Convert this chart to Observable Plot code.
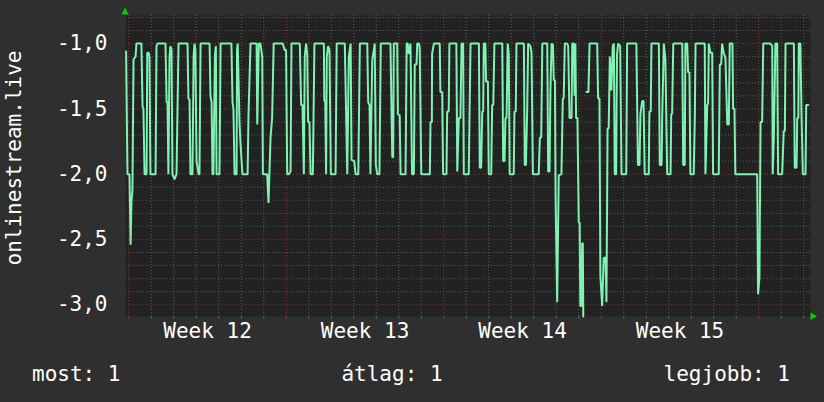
<!DOCTYPE html>
<html>
<head>
<meta charset="utf-8">
<script src="https://cdn.jsdelivr.net/npm/d3@7"></script>
<script src="https://cdn.jsdelivr.net/npm/@observablehq/plot@0.6"></script>
<style>
  html, body { margin: 0; padding: 0; background: #2f2f2f; }
  svg { display: block; }
</style>
</head>
<body>
<div id="chart"></div>
<script>
// time in days since the start of Week 12
const t = [
  -0.12,-0.06,0.03,0.08,0.12,0.16,0.21,0.30,0.34,0.56,0.61,0.65,0.70,0.79,0.82,0.88,0.92,0.96,1.19,1.23,
  1.28,1.63,1.68,1.72,1.76,1.81,1.85,1.90,1.94,2.03,2.12,2.21,2.61,2.65,2.70,2.74,2.83,2.88,2.92,2.96,
  3.01,3.10,3.14,3.19,3.59,3.63,3.68,3.72,3.76,3.83,3.87,3.90,4.03,4.08,4.56,4.61,4.65,4.70,4.79,4.81,
  4.84,4.92,4.96,5.05,5.28,5.32,5.41,5.68,5.71,5.78,5.85,5.93,5.96,6.15,6.21,6.30,6.37,6.44,6.84,6.93,
  6.99,7.04,7.11,7.19,7.23,7.60,7.66,7.72,7.78,7.82,7.88,7.93,7.97,8.03,8.08,8.18,8.25,8.67,8.69,8.73,
  8.77,8.80,8.86,8.92,8.98,9.19,9.24,9.60,9.71,9.78,9.86,9.90,10.02,10.08,10.20,10.27,10.60,10.64,10.70,10.74,
  10.82,10.89,10.93,10.98,11.04,11.14,11.20,11.63,11.71,11.75,11.78,11.93,11.96,12.04,12.08,12.30,12.35,12.40,12.44,12.52,
  12.59,12.67,12.71,12.79,12.82,12.89,12.93,13.00,13.38,13.41,13.47,13.48,13.56,13.82,13.85,13.93,13.97,14.12,14.15,14.22,
  14.25,14.56,14.60,14.67,14.74,14.79,14.86,14.89,15.11,15.14,15.19,15.56,15.60,15.66,15.71,15.75,15.78,15.85,15.88,15.96,
  16.00,16.11,16.15,16.20,16.25,16.60,16.64,16.70,16.74,16.79,16.84,16.89,16.93,17.11,17.14,17.20,17.23,17.56,17.60,17.65,
  17.71,17.75,17.85,17.90,17.96,18.22,18.27,18.33,18.38,18.60,18.64,18.70,18.74,18.79,18.85,18.89,18.94,18.97,19.04,19.11,
  19.23,19.29,19.33,19.38,19.48,19.53,19.59,19.68,19.71,19.78,19.81,19.85,19.88,19.94,20.00,20.04,20.07,20.12,20.15,20.18,
  20.20,20.27,20.34,20.43,20.48,20.82,20.86,20.92,20.96,21.04,21.11,21.19,21.23,21.28,21.33,21.38,21.45,21.51,21.56,21.60,
  21.66,21.70,21.75,21.84,21.90,22.11,22.15,22.56,22.63,22.70,22.74,22.82,22.88,22.93,23.11,23.14,23.20,23.23,23.56,23.60,
  23.68,23.71,23.78,23.85,23.93,24.08,24.11,24.15,24.20,24.60,24.64,24.71,24.74,24.82,24.86,24.92,24.96,25.11,25.16,25.19,
  25.60,25.63,25.71,25.75,25.78,25.85,25.93,25.97,26.22,26.27,26.33,26.37,26.44,26.52,26.60,26.67,26.71,26.83,26.86,26.92,
  26.96,27.93,27.97,28.03,28.08,28.15,28.20,28.52,28.60,28.62,28.67,28.74,28.82,28.86,29.04,29.11,29.16,29.19,29.56,29.60,
  29.68,29.71,29.76,29.78,29.85,29.90,29.96,30.08,30.11,30.20
];
const v = [
  -1.06,-2.0,-2.0,-2.54,-2.2,-2.13,-1.12,-1.1,-1.0,-1.0,-1.48,-1.5,-2.0,-2.0,-1.07,-1.07,-1.1,-2.0,-2.0,-1.02,
  -1.0,-1.0,-1.45,-1.45,-2.0,-1.1,-1.02,-1.05,-2.0,-2.04,-2.0,-1.0,-1.0,-1.42,-1.43,-2.0,-2.0,-1.1,-1.0,-1.05,
  -1.9,-2.0,-2.0,-1.0,-1.0,-1.4,-1.45,-2.0,-2.0,-1.08,-1.02,-2.0,-2.0,-1.0,-1.0,-1.45,-1.5,-2.0,-2.0,-1.05,
  -1.0,-1.6,-1.75,-2.0,-2.0,-1.55,-1.0,-1.0,-1.62,-1.0,-1.0,-1.1,-2.0,-2.0,-2.22,-1.72,-1.57,-1.0,-1.0,-1.05,
  -1.05,-2.0,-2.0,-1.98,-1.0,-1.0,-1.47,-1.47,-2.0,-1.1,-1.0,-1.08,-1.6,-1.6,-2.0,-2.0,-1.0,-1.0,-1.44,-1.44,
  -2.0,-1.1,-1.02,-1.05,-2.0,-2.0,-1.0,-1.0,-2.0,-1.1,-1.0,-1.89,-1.9,-2.0,-2.0,-1.0,-1.0,-1.45,-1.47,-2.0,
  -1.13,-1.05,-1.0,-1.93,-2.0,-2.0,-1.0,-1.0,-1.87,-1.87,-1.0,-1.0,-1.54,-1.55,-2.0,-2.0,-1.0,-1.0,-1.08,-1.0,
  -2.0,-2.0,-1.16,-1.16,-1.0,-1.0,-1.03,-2.0,-2.0,-1.6,-1.6,-1.08,-1.0,-1.0,-1.37,-1.37,-2.0,-2.0,-1.52,-1.52,
  -1.0,-1.0,-1.98,-1.57,-1.57,-1.0,-1.0,-2.0,-2.0,-1.6,-1.0,-1.0,-1.95,-1.95,-1.52,-1.52,-1.0,-1.0,-1.29,-1.29,
  -2.0,-2.0,-1.47,-1.47,-1.0,-1.0,-1.9,-1.9,-1.57,-1.57,-1.0,-1.08,-2.0,-2.0,-1.52,-1.52,-1.0,-1.0,-1.93,-1.93,
  -1.49,-1.0,-1.02,-1.07,-2.0,-2.0,-1.72,-1.72,-1.0,-1.0,-1.98,-1.98,-1.36,-1.0,-1.01,-1.28,-1.28,-2.19,-2.98,-2.01,
  -2.0,-1.42,-1.42,-1.0,-1.0,-1.02,-1.57,-1.57,-1.0,-1.0,-1.4,-1.0,-1.57,-1.57,-2.37,-2.37,-3.01,-3.01,-2.53,-2.53,
  -3.09,null,-1.37,-1.37,-1.0,-1.0,-1.42,-1.42,-2.78,-3.01,-2.64,-2.64,-2.98,-1.65,-1.65,-1.1,-1.36,-1.02,-1.0,-2.0,
  -2.0,-1.08,-1.0,-1.02,-2.0,-2.0,-1.0,-1.0,-1.93,-1.93,-1.54,-1.44,-1.44,-2.0,-2.0,-1.52,-1.52,-1.0,-1.0,-1.93,
  -1.93,-1.55,-1.0,-1.12,-2.0,-2.0,-1.54,-1.54,-1.0,-1.0,-1.93,-1.93,-1.0,-1.0,-1.22,-1.22,-2.0,-2.0,-1.54,-1.0,
  -1.0,-2.0,-1.47,-1.46,-1.0,-1.07,-1.07,-2.0,-2.0,-1.16,-1.16,-1.0,-1.07,-1.11,-1.62,-1.62,-1.0,-1.0,-1.5,-1.5,
  -2.0,-2.0,-2.92,-2.79,-1.6,-1.6,-1.0,-1.0,-1.02,-2.0,-1.73,-1.0,-1.0,-2.0,-2.0,-1.67,-1.67,-1.0,-1.0,-1.95,
  -1.95,-1.57,-1.57,-1.0,-1.0,-1.54,-2.0,-2.0,-1.47,-1.47
];

const yMajorTicks = [-3.0, -2.5, -2.0, -1.5, -1.0];
const yMinorTicks = [-3.0,-2.9,-2.8,-2.7,-2.6,-2.5,-2.4,-2.3,-2.2,-2.1,-2.0,-1.9,-1.8,-1.7,-1.6,-1.5,-1.4,-1.3,-1.2,-1.1,-1.0,-0.9,-0.8];
const weekStarts = [0, 7, 14, 21, 28];
const dayTicks = [1,2,3,4,5,6,8,9,10,11,12,13,15,16,17,18,19,20,22,23,24,25,26,27,29,30];
const weekCenters = [3.5, 10.5, 17.5, 24.5];
const weekLabels = ["Week 12", "Week 13", "Week 14", "Week 15"];
const yLabel = "onlinestream.live";
const legendItems = ["most: 1", "átlag: 1", "legjobb: 1"];

const data = t.map((d, i) => ({t: d, v: v[i]}));

const font = "'DejaVu Sans Mono', monospace";
const gridMinor = "#5a5a5a";
const gridMajor = "#8a3434";
const fmt = d => d.toFixed(1).replace(".", ",");

const chart = Plot.plot({
  width: 824,
  height: 402,
  marginLeft: 125,
  marginRight: 14,
  marginTop: 15,
  marginBottom: 86,
  style: {background: "#2f2f2f", color: "#ffffff", fontFamily: font, fontSize: "21px"},
  x: {domain: [-0.147, 30.3]},
  y: {domain: [-3.09, -0.785]},
  marks: [
    Plot.frame({fill: "#222222", stroke: null}),
    Plot.ruleY(yMinorTicks.filter(d => !yMajorTicks.some(m => Math.abs(m - d) < 1e-9)), {stroke: gridMinor, strokeDasharray: "1,2"}),
    Plot.ruleX(dayTicks, {stroke: gridMinor, strokeDasharray: "1,2"}),
    Plot.ruleY(yMajorTicks, {stroke: gridMajor, strokeDasharray: "1,2"}),
    Plot.ruleX(weekStarts, {stroke: gridMajor, strokeDasharray: "1,2"}),
    Plot.line(data, {x: "t", y: "v", stroke: "#7ff2b4", strokeWidth: 2, strokeLinejoin: "miter"}),
    Plot.axisY({ticks: yMajorTicks, tickSize: 0, tickPadding: 18, tickFormat: fmt, label: null, fill: "#ffffff", fontSize: 21}),
    Plot.axisX({ticks: dayTicks, tickSize: 3, tickFormat: () => "", label: null, stroke: gridMinor}),
    Plot.axisX({ticks: weekStarts, tickSize: 3, tickFormat: () => "", label: null, stroke: gridMajor}),
    Plot.axisX({ticks: weekCenters, tickSize: 0, tickPadding: 7, tickFormat: (d, i) => weekLabels[weekCenters.indexOf(d)], label: null, fill: "#ffffff", fontSize: 21})
  ]
});

const svg = d3.select(chart);
// axis arrows
svg.append("path").attr("d", "M121.5,14.5 L128.5,14.5 L125,7.5 Z").attr("fill", "#00d000");
svg.append("path").attr("d", "M810.5,312.5 L810.5,320 L817,316.2 Z").attr("fill", "#00d000");
// y-axis title
svg.append("text")
  .attr("transform", "translate(14,158) rotate(-90)")
  .attr("text-anchor", "middle")
  .attr("dominant-baseline", "central")
  .attr("font-family", font).attr("font-size", 21).attr("fill", "#ffffff")
  .text(yLabel);
// legend
const lg = svg.append("g").attr("font-family", font).attr("font-size", 21).attr("fill", "#ffffff");
lg.append("text").attr("x", 32).attr("y", 381).attr("text-anchor", "start").text(legendItems[0]);
lg.append("text").attr("x", 392).attr("y", 381).attr("text-anchor", "middle").text(legendItems[1]);
lg.append("text").attr("x", 790).attr("y", 381).attr("text-anchor", "end").text(legendItems[2]);

document.getElementById("chart").appendChild(chart);
</script>
</body>
</html>
